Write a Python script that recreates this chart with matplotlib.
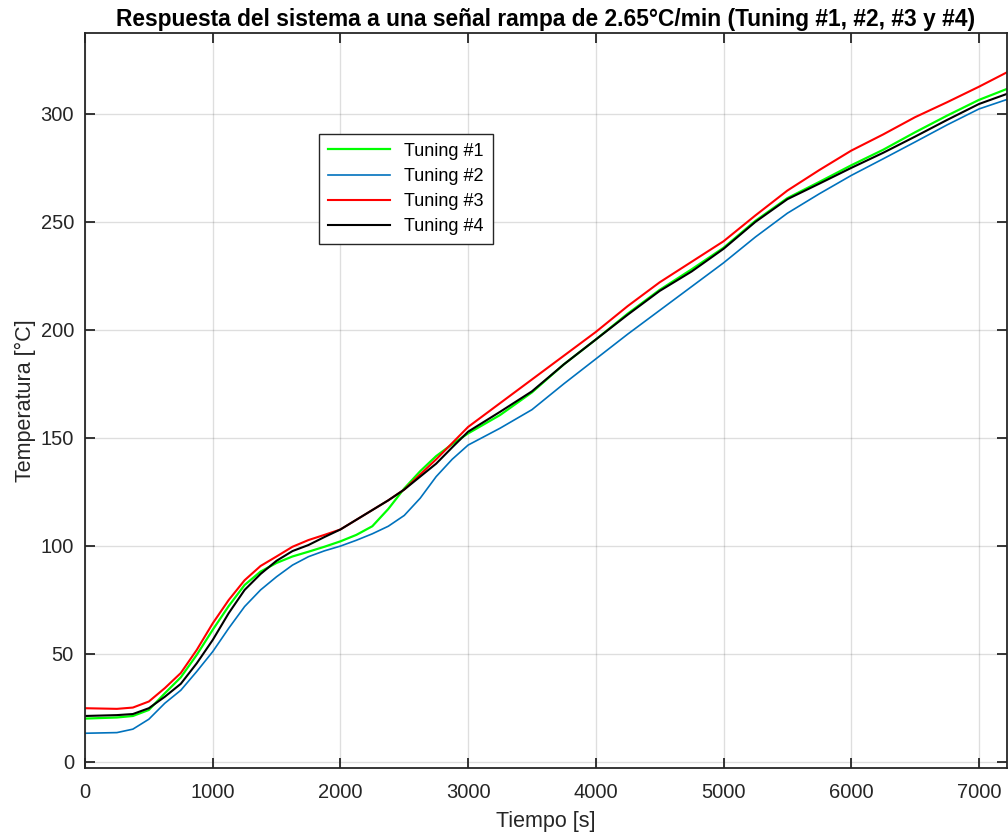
import matplotlib.pyplot as plt

plt.rcParams['font.family'] = ['Liberation Sans', 'DejaVu Sans']

# Tiempo [s]
t = [0, 250, 375, 500, 625, 750, 875, 1000, 1125, 1250, 1375, 1500, 1625, 1750, 1875,
     2000, 2125, 2250, 2375, 2500, 2625, 2750, 2875, 3000, 3250, 3500, 3750, 4000, 4250, 4500,
     4750, 5000, 5250, 5500, 5750, 6000, 6250, 6500, 6750, 7000, 7220]

# Temperatura [°C]
tuning1 = [19.9, 20.4, 21.1, 23.9, 31.6, 39.0, 49.4, 61.0, 72.0, 81.8, 88.0, 92.0, 95.0, 97.2, 99.5,
           102.0, 105.0, 109.0, 117.0, 126.5, 134.5, 141.5, 147.0, 152.0, 160.5, 171.0, 184.0, 195.5, 207.5, 218.5,
           228.0, 238.0, 250.5, 261.0, 268.5, 276.2, 283.4, 291.5, 299.2, 306.5, 311.6]
tuning2 = [13.1, 13.4, 15.0, 19.6, 27.0, 33.0, 41.7, 50.9, 61.7, 71.8, 79.5, 85.6, 91.0, 94.9, 97.6,
           99.8, 102.5, 105.5, 109.0, 114.0, 122.0, 132.0, 140.0, 146.6, 154.4, 163.0, 175.0, 186.5, 198.0, 209.0,
           220.0, 231.0, 243.0, 254.0, 263.0, 271.5, 279.2, 287.0, 294.9, 302.3, 306.7]
tuning3 = [24.7, 24.4, 25.0, 27.8, 34.0, 41.0, 51.7, 64.0, 74.8, 84.0, 90.6, 95.0, 99.5, 102.6, 105.0,
           107.5, 112.0, 116.5, 121.0, 126.0, 133.0, 140.0, 147.5, 155.0, 166.0, 177.0, 188.0, 199.0, 211.0, 222.0,
           231.5, 241.0, 253.0, 264.5, 274.0, 283.0, 290.5, 298.5, 305.4, 312.6, 319.3]
tuning4 = [21.1, 21.5, 22.0, 24.7, 30.0, 36.0, 45.5, 56.3, 68.7, 79.5, 86.9, 93.0, 97.5, 100.3, 104.0,
           107.5, 112.0, 116.5, 121.0, 126.0, 132.0, 138.0, 145.5, 152.8, 162.0, 171.5, 184.0, 195.5, 207.0, 218.0,
           227.0, 237.5, 250.0, 260.5, 267.7, 275.0, 282.0, 289.5, 297.2, 304.6, 309.3]

fig = plt.figure(figsize=(10.08, 8.38), dpi=100)
ax = fig.add_axes([85 / 1008, 70 / 838, 922 / 1008, 735 / 838])

ax.plot(t, tuning1, color='#00FF00', lw=1.6, label='Tuning #1')
ax.plot(t, tuning2, color='#0072BD', lw=1.2, label='Tuning #2')
ax.plot(t, tuning3, color='#FF0000', lw=1.5, label='Tuning #3')
ax.plot(t, tuning4, color='black', lw=1.5, label='Tuning #4')

ax.set_xlim(0, 7220)
ax.set_ylim(-3, 337.5)
ax.set_xticks(range(0, 8000, 1000))
ax.set_yticks(range(0, 301, 50))
ax.grid(True, color='#262626', alpha=0.15, lw=1)

dark = '#262626'
for s in ax.spines.values():
    s.set_color(dark)
    s.set_linewidth(1.3)
ax.tick_params(direction='in', length=7, width=1.3, colors=dark, labelsize=14.5,
               top=True, right=True)
ax.tick_params(axis='x', pad=11)
ax.tick_params(axis='y', pad=8)

ax.set_xlabel('Tiempo [s]', fontsize=15.5, color=dark, labelpad=6)
ax.set_ylabel('Temperatura [°C]', fontsize=15.5, color=dark, labelpad=3)
ax.set_title('Respuesta del sistema a una señal rampa de 2.65°C/min (Tuning #1, #2, #3 y #4)',
             fontsize=16.4, fontweight='bold', pad=5)

leg = ax.legend(loc='upper left', bbox_to_anchor=(0.254, 0.863), fontsize=13,
                handlelength=3.4, labelspacing=0.45, fancybox=False, framealpha=1,
                borderaxespad=0, borderpad=0.5)
leg.get_frame().set_edgecolor(dark)
leg.get_frame().set_linewidth(1.0)

fig.savefig('out.png', dpi=100)
